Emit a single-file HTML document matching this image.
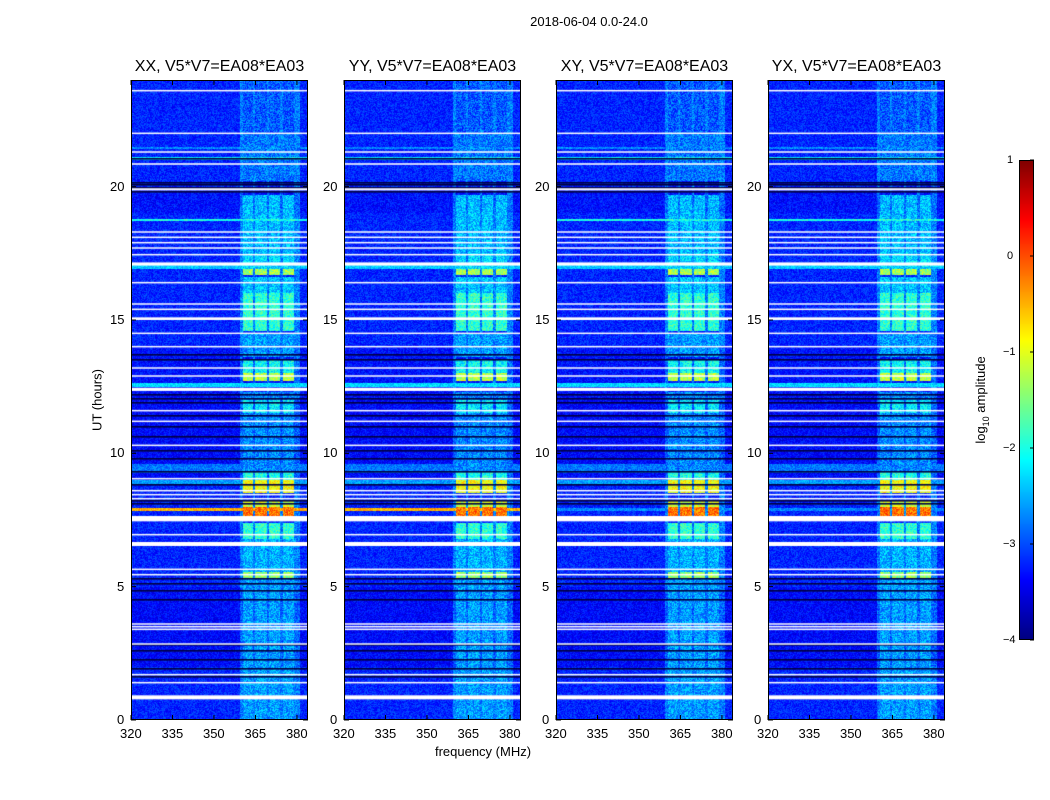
<!DOCTYPE html>
<html><head><meta charset="utf-8">
<style>
body{margin:0;background:#fff;width:1050px;height:800px;position:relative;overflow:hidden;font-family:"Liberation Sans",sans-serif;color:#000}
.abs{position:absolute}
.ttl{position:absolute;font-size:16px;white-space:nowrap;transform:translateX(-50%)}
.tk{position:absolute;font-size:13px;white-space:nowrap}
canvas{position:absolute}
</style></head>
<body>
<div class="abs" style="left:589px;top:14px;font-size:13px;transform:translateX(-50%);white-space:nowrap">2018-06-04 0.0-24.0</div>
<div class="abs" style="left:97px;top:400px;font-size:13px;transform:translate(-50%,-50%) rotate(-90deg);white-space:nowrap">UT (hours)</div>
<div class="abs" style="left:483px;top:744px;font-size:13px;transform:translateX(-50%);white-space:nowrap">frequency (MHz)</div>
<div id="root"></div>
<svg class="abs" style="left:0;top:0" width="1050" height="800" id="overlay"></svg>
<script>
// ---- data ----
const panelTitles = ["XX, V5*V7=EA08*EA03","YY, V5*V7=EA08*EA03","XY, V5*V7=EA08*EA03","YX, V5*V7=EA08*EA03"];
const xTicks = [320,335,350,365,380];
const yTicks = [0,5,10,15,20];
const cbTicks = [1,0,-1,-2,-3,-4];
// hourly background log10 amplitude (hour 0..23)
const hourlyBase = [-3.2,-3.2,-3.35,-3.35,-3.35,-3.2,-3.2,-3.2,-3.2,-3.35,-3.35,-3.35,-3.3,-3.3,-3.2,-3.2,-3.2,-3.2,-3.2,-3.3,-3.2,-3.2,-3.2,-3.2];
// emission channels in MHz
const bandChannels = [[360.5,364.2],[365,369],[370,374],[375,379]];
// band level segments [t0,t1,log amp]
const bandSegments = [[0,5.3,-2.6],[5.3,5.55,-1.4],[5.55,6.8,-2.5],[6.8,7.4,-1.9],[7.6,8.0,-0.2],[8.0,8.2,-1.1],[8.5,9.0,-0.9],[9.0,9.3,-2.0],[9.3,11.5,-2.7],[11.5,12.0,-2.2],[12.0,12.3,-2.7],[12.7,13.0,-1.2],[13.0,13.5,-2.1],[13.6,14.5,-2.6],[14.6,16.0,-1.9],[16.0,16.6,-2.4],[16.7,16.9,-1.3],[16.9,17.5,-2.3],[17.5,19.7,-2.45],[20.2,22.0,-2.8],[22.0,24,-2.95]];
// broadband stripes [t0,t1,log amp,panel mask]
const wideStripes = [[7.85,7.95,-0.5,[1,1,0,0]],[7.85,7.95,-2.7,[0,0,1,1]],[18.7,18.8,-2.0,[1,0,1,1]],[8.8,9.0,-2.6,[1,1,1,1]],[9.25,9.6,-2.8,[1,1,1,1]],[12.5,12.65,-2.3,[1,1,1,1]],[16.9,17.05,-2.4,[1,1,1,1]],[21.0,21.1,-2.2,[1,1,1,1]],[21.4,21.5,-2.7,[1,1,1,1]]];
// flagged (white) rows [t, thickness h]
const flagged = [[23.6,.05],[22.0,.05],[21.3,.05],[20.85,.06],[19.9,.08],[18.3,.04],[18.1,.04],[17.9,.04],[17.7,.04],[17.45,.04],[17.1,.12],[16.4,.05],[15.6,.05],[15.4,.05],[15.05,.1],[14.5,.04],[14.0,.04],[13.2,.04],[12.9,.04],[12.4,.12],[11.6,.05],[11.2,.04],[10.3,.04],[9.05,.04],[8.6,.04],[8.45,.04],[8.3,.04],[7.55,.2],[6.95,.04],[6.6,.15],[5.65,.04],[5.45,.04],[3.6,.04],[3.5,.04],[3.4,.04],[2.85,.04],[1.7,.04],[1.4,.04],[0.85,.15]];
// dark rows
const darkLines = [21.05,20.15,20.05,19.95,19.8,13.7,13.5,12.2,12.05,11.9,11.4,11.0,10.6,10.1,9.8,9.3,8.8,8.2,8.1,5.3,5.1,4.85,4.5,2.8,2.6,2.25,1.9,1.6];

// ---- layout ----
const panelX = [131,344,556,768], pW = 177, pTop = 80, pH = 640;
const fMin = 320, fMax = 384, tMax = 24;
function xScale(f){return (f-fMin)/(fMax-fMin)*pW;}
function yScale(t){return pH - t/tMax*pH;}
function jet(v){
  let t=Math.max(0,Math.min(1,(v+4)/5));
  const c=x=>Math.max(0,Math.min(1,x));
  return [c(Math.min(4*t-1.5,-4*t+4.5))*255,c(Math.min(4*t-0.5,-4*t+3.5))*255,c(Math.min(4*t+0.5,-4*t+2.5))*255];
}
function hash(a,b){let h=(a*374761393+b*668265263)|0;h=(h^(h>>>13))*1274126177;h=h^(h>>>16);return ((h>>>0)%1000)/1000;}
function valueAt(p,t,f,px,py){
  let v = hourlyBase[Math.min(23,Math.floor(t))];
  let n=(hash(px+p*1000,py)-0.5)*0.55;
  const inCh = bandChannels.some(c=>f>=c[0]&&f<c[1]);
  if(inCh){let b=null;for(const s of bandSegments){if(t>=s[0]&&t<s[1]){b=s[2];}}
    if(b!==null){v=Math.max(v,b);n*=1.5;}}
  else if(f>=359.5&&f<381){v+=0.45;n*=1.3;}
  for(const s of wideStripes){if(s[3][p]&&t>=s[0]&&t<s[1]){v=Math.max(v,s[2]);}}
  return v+n;
}
const root=document.getElementById('root');
const ov=document.getElementById('overlay');
const NS="http://www.w3.org/2000/svg";
function svgEl(tag,attrs){const e=document.createElementNS(NS,tag);for(const k in attrs)e.setAttribute(k,attrs[k]);ov.appendChild(e);return e;}
panelX.forEach((x0,p)=>{
  const cv=document.createElement('canvas');
  cv.width=pW;cv.height=pH;cv.style.left=x0+'px';cv.style.top=pTop+'px';
  
  
  root.appendChild(cv);
  const ctx=cv.getContext('2d');
  const img=ctx.createImageData(pW,pH);
  for(let py=0;py<pH;py++){
    const t=(pH-py-0.5)/pH*tMax;
    for(let px=0;px<pW;px++){
      const f=fMin+(px+0.5)/pW*(fMax-fMin);
      const c=jet(valueAt(p,t,f,px,py));
      const i=(py*pW+px)*4;img.data[i]=c[0];img.data[i+1]=c[1];img.data[i+2]=c[2];img.data[i+3]=255;
    }
  }
  ctx.putImageData(img,0,0);
  ctx.fillStyle='#000040';
  darkLines.forEach(t=>{ctx.fillRect(0,Math.round(yScale(t))-1,pW,1.6);});
  ctx.fillStyle='#fff';
  flagged.forEach(d=>{const h=Math.max(1.5,d[1]/tMax*pH);ctx.fillRect(0,yScale(d[0])-h/2,pW,h);});
  // frame & ticks
  const fr=svgEl('rect',{x:x0+.5,y:pTop+.5,width:pW-1,height:pH-1,fill:'none',stroke:'#000','stroke-width':1});
  
  const tt=document.createElement('div');tt.className='ttl';tt.style.left=(x0+pW/2)+'px';tt.style.top='58px';tt.textContent=panelTitles[p];
  root.appendChild(tt);
  xTicks.forEach(f=>{
    const xx=x0+xScale(f);
    svgEl('line',{x1:xx,x2:xx,y1:pTop+pH,y2:pTop+pH-5,stroke:'#000'});
    svgEl('line',{x1:xx,x2:xx,y1:pTop,y2:pTop+5,stroke:'#000'});
    const l=document.createElement('div');l.className='tk';l.textContent=f;
    l.style.left=(xx-11)+'px';l.style.top=(pTop+pH+6)+'px';
    root.appendChild(l);
  });
  yTicks.forEach(t=>{
    const yy=pTop+yScale(t);
    svgEl('line',{x1:x0,x2:x0+5,y1:yy,y2:yy,stroke:'#000'});
    svgEl('line',{x1:x0+pW,x2:x0+pW-5,y1:yy,y2:yy,stroke:'#000'});
    const l=document.createElement('div');l.className='tk';l.textContent=t;
    l.style.left=(x0-6-(t>=10?15:8))+'px';l.style.top=(yy-8)+'px';
    root.appendChild(l);
  });
});
// colorbar
const cbX=1019,cbY=160,cbW=15,cbH=480;
const cb=document.createElement('canvas');cb.width=cbW;cb.height=cbH;cb.style.left=cbX+'px';cb.style.top=cbY+'px';
root.appendChild(cb);
const cctx=cb.getContext('2d');
for(let y=0;y<cbH;y++){const c=jet(1-(y+0.5)/cbH*5);cctx.fillStyle=`rgb(${c[0]|0},${c[1]|0},${c[2]|0})`;cctx.fillRect(0,y,cbW,1);}
svgEl('rect',{x:cbX+.5,y:cbY+.5,width:cbW-1,height:cbH-1,fill:'none',stroke:'#000'});
cbTicks.forEach(v=>{
  const yy=cbY+(1-v)/5*cbH;
  svgEl('line',{x1:cbX+cbW-4,x2:cbX+cbW,y1:yy,y2:yy,stroke:'#000'});
  const l=document.createElement('div');l.className='tk';l.style.fontSize='11px';
  l.textContent=v<0?'\u2212'+(-v):v;
  l.style.left=(v<0?1003:1007)+'px';l.style.top=(yy-6)+'px';
  root.appendChild(l);
});
</script>
<div class="abs" style="left:982px;top:400px;font-size:13px;transform:translate(-50%,-50%) rotate(-90deg);white-space:nowrap">log<sub style="font-size:9px">10</sub> amplitude</div>
</body></html>
